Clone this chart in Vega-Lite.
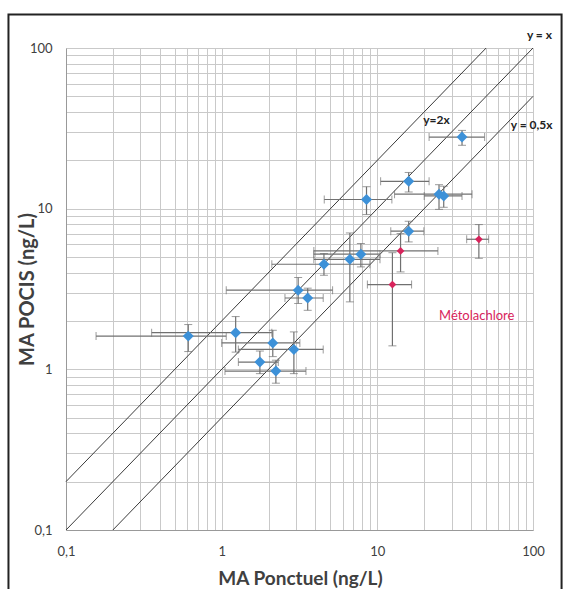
{
  "$schema": "https://vega.github.io/schema/vega-lite/v6.json",
  "width": 467,
  "height": 482,
  "autosize": "none",
  "padding": {"left": 66, "top": 48, "right": 36, "bottom": 59},
  "background": "white",
  "config": {
    "view": {"stroke": null},
    "font": "Lato",
    "axis": {
      "grid": true, "gridColor": "#c9c9c9", "gridWidth": 1,
      "ticks": false, "labelFontSize": 13, "labelColor": "#404040",
      "labelFlush": false, "labelOverlap": false, "domainColor": "#999999",
      "titleFontWeight": "bold", "titleColor": "#404040"
    },
    "axisX": {"labelPadding": 15, "titleFontSize": 19, "titleX": 234, "titleY": 48, "titleBaseline": "middle"},
    "axisY": {"labelPadding": 14, "titleFontSize": 20, "titleX": -39, "titleY": 241, "titleAngle": -90, "titleBaseline": "middle", "titleAlign": "center"}
  },
  "datasets": {
    "pts": [
      {"group": "Autres", "x": 0.61, "y": 1.61, "xlo": 0.156, "xhi": 1.07, "ylo": 1.29, "yhi": 1.9},
      {"group": "Autres", "x": 1.23, "y": 1.69, "xlo": 0.355, "xhi": 2.1, "ylo": 1.28, "yhi": 2.13},
      {"group": "Autres", "x": 2.13, "y": 1.46, "xlo": 1.0, "xhi": 3.18, "ylo": 1.2, "yhi": 1.75},
      {"group": "Autres", "x": 1.76, "y": 1.11, "xlo": 1.28, "xhi": 2.31, "ylo": 0.94, "yhi": 1.3},
      {"group": "Autres", "x": 2.91, "y": 1.33, "xlo": 1.28, "xhi": 4.49, "ylo": 0.94, "yhi": 1.71},
      {"group": "Autres", "x": 2.23, "y": 0.975, "xlo": 1.05, "xhi": 3.48, "ylo": 0.82, "yhi": 1.14},
      {"group": "Autres", "x": 3.1, "y": 3.11, "xlo": 1.07, "xhi": 5.16, "ylo": 2.57, "yhi": 3.73},
      {"group": "Autres", "x": 3.57, "y": 2.78, "xlo": 2.55, "xhi": 4.49, "ylo": 2.33, "yhi": 3.2},
      {"group": "Autres", "x": 4.54, "y": 4.51, "xlo": 2.1, "xhi": 8.95, "ylo": 3.85, "yhi": 5.26},
      {"group": "Autres", "x": 6.66, "y": 4.84, "xlo": 3.91, "xhi": 10.4, "ylo": 2.63, "yhi": 7.06},
      {"group": "Autres", "x": 7.84, "y": 5.21, "xlo": 3.91, "xhi": 10.4, "ylo": 4.34, "yhi": 6.07},
      {"group": "Autres", "x": 8.52, "y": 11.4, "xlo": 4.56, "xhi": 12.4, "ylo": 9.19, "yhi": 13.7},
      {"group": "Autres", "x": 15.9, "y": 14.8, "xlo": 10.5, "xhi": 21.5, "ylo": 12.7, "yhi": 16.8},
      {"group": "Autres", "x": 15.9, "y": 7.24, "xlo": 12.2, "xhi": 19.9, "ylo": 6.21, "yhi": 8.35},
      {"group": "Autres", "x": 24.9, "y": 12.3, "xlo": 12.9, "xhi": 40.6, "ylo": 9.9, "yhi": 14.1},
      {"group": "Autres", "x": 26.7, "y": 12.0, "xlo": 20.0, "xhi": 35.0, "ylo": 10.2, "yhi": 13.8},
      {"group": "Autres", "x": 35.0, "y": 27.9, "xlo": 21.5, "xhi": 48.9, "ylo": 24.8, "yhi": 30.7},
      {"group": "Métolachlore", "x": 14.1, "y": 5.46, "xlo": 3.91, "xhi": 24.5, "ylo": 4.04, "yhi": 7.0},
      {"group": "Métolachlore", "x": 12.5, "y": 3.37, "xlo": 8.63, "xhi": 16.6, "ylo": 1.4, "yhi": 5.32},
      {"group": "Métolachlore", "x": 44.9, "y": 6.45, "xlo": 37.5, "xhi": 51.9, "ylo": 4.91, "yhi": 7.96}
    ],
    "lines": [
      {"line": "y = x", "x": 0.1, "y": 0.1},
      {"line": "y = x", "x": 100, "y": 100},
      {"line": "y=2x", "x": 0.1, "y": 0.2},
      {"line": "y=2x", "x": 50, "y": 100},
      {"line": "y = 0,5x", "x": 0.2, "y": 0.1},
      {"line": "y = 0,5x", "x": 100, "y": 50}
    ],
    "linelabels": [
      {"text": "y = x", "x": 110, "y": 120},
      {"text": "y=2x", "x": 24, "y": 35.5},
      {"text": "y = 0,5x", "x": 98, "y": 33}
    ],
    "note": [
      {"text": "Métolachlore", "x": 43.5, "y": 2.14}
    ],
    "frame": [
      {"x": 0.0427, "x2": 152.6, "y": 161.8, "y2": 0.0395}
    ]
  },
  "layer": [
    {
      "data": {"name": "lines"},
      "mark": {"type": "line", "color": "#3a3a3a", "strokeWidth": 1},
      "encoding": {
        "x": {"field": "x", "type": "quantitative", "title": "MA Ponctuel (ng/L)",
          "scale": {"type": "log", "domain": [0.1, 100], "nice": false},
          "axis": {"values": [0.1,0.2,0.3,0.4,0.5,0.6,0.7,0.8,0.9,1,2,3,4,5,6,7,8,9,10,20,30,40,50,60,70,80,90,100],
            "labelExpr": "datum.value == 0.1 ? '0,1' : datum.value == 1 ? '1' : datum.value == 10 ? '10' : datum.value == 100 ? '100' : ''"}},
        "y": {"field": "y", "type": "quantitative", "title": "MA POCIS (ng/L)",
          "scale": {"type": "log", "domain": [0.1, 100], "nice": false},
          "axis": {"values": [0.1,0.2,0.3,0.4,0.5,0.6,0.7,0.8,0.9,1,2,3,4,5,6,7,8,9,10,20,30,40,50,60,70,80,90,100],
            "labelExpr": "datum.value == 0.1 ? '0,1' : datum.value == 1 ? '1' : datum.value == 10 ? '10' : datum.value == 100 ? '100' : ''"}},
        "detail": {"field": "line", "type": "nominal"}
      }
    },
    {
      "data": {"name": "pts"},
      "mark": {"type": "errorbar", "ticks": {"size": 8, "color": "#707070"}, "rule": {"color": "#707070", "strokeWidth": 1.2}},
      "encoding": {
        "x": {"field": "xlo", "type": "quantitative", "title": "MA Ponctuel (ng/L)", "scale": {"type": "log", "domain": [0.1, 100], "nice": false}},
        "x2": {"field": "xhi"},
        "y": {"field": "y", "type": "quantitative", "title": "MA POCIS (ng/L)", "scale": {"type": "log", "domain": [0.1, 100], "nice": false}}
      }
    },
    {
      "data": {"name": "pts"},
      "mark": {"type": "errorbar", "ticks": {"size": 8, "color": "#707070"}, "rule": {"color": "#707070", "strokeWidth": 1.2}},
      "encoding": {
        "y": {"field": "ylo", "type": "quantitative", "title": "MA POCIS (ng/L)", "scale": {"type": "log", "domain": [0.1, 100], "nice": false}},
        "y2": {"field": "yhi"},
        "x": {"field": "x", "type": "quantitative", "title": "MA Ponctuel (ng/L)", "scale": {"type": "log", "domain": [0.1, 100], "nice": false}}
      }
    },
    {
      "data": {"name": "pts"},
      "mark": {"type": "point", "shape": "diamond", "filled": true, "opacity": 1},
      "encoding": {
        "x": {"field": "x", "type": "quantitative", "title": "MA Ponctuel (ng/L)", "scale": {"type": "log", "domain": [0.1, 100], "nice": false}},
        "y": {"field": "y", "type": "quantitative", "title": "MA POCIS (ng/L)", "scale": {"type": "log", "domain": [0.1, 100], "nice": false}},
        "color": {"field": "group", "type": "nominal", "scale": {"domain": ["Autres", "Métolachlore"], "range": ["#3d91d8", "#d8245c"]}, "legend": null},
        "size": {"field": "group", "type": "nominal", "scale": {"domain": ["Autres", "Métolachlore"], "range": [120, 60]}, "legend": null}
      }
    },
    {
      "data": {"name": "linelabels"},
      "mark": {"type": "text", "fontSize": 12, "fontWeight": "bold", "color": "#222222", "clip": false},
      "encoding": {
        "x": {"field": "x", "type": "quantitative", "title": "MA Ponctuel (ng/L)", "scale": {"type": "log", "domain": [0.1, 100], "nice": false}},
        "y": {"field": "y", "type": "quantitative", "title": "MA POCIS (ng/L)", "scale": {"type": "log", "domain": [0.1, 100], "nice": false}},
        "text": {"field": "text", "type": "nominal"}
      }
    },
    {
      "data": {"name": "note"},
      "mark": {"type": "text", "fontSize": 13, "fontWeight": "normal", "color": "#d8245c", "clip": false},
      "encoding": {
        "x": {"field": "x", "type": "quantitative", "title": "MA Ponctuel (ng/L)", "scale": {"type": "log", "domain": [0.1, 100], "nice": false}},
        "y": {"field": "y", "type": "quantitative", "title": "MA POCIS (ng/L)", "scale": {"type": "log", "domain": [0.1, 100], "nice": false}},
        "text": {"field": "text", "type": "nominal"}
      }
    },
    {
      "data": {"name": "frame"},
      "mark": {"type": "rect", "fill": null, "stroke": "#222222", "strokeWidth": 2, "clip": false},
      "encoding": {
        "x": {"field": "x", "type": "quantitative", "title": "MA Ponctuel (ng/L)", "scale": {"type": "log", "domain": [0.1, 100], "nice": false}},
        "x2": {"field": "x2"},
        "y": {"field": "y", "type": "quantitative", "title": "MA POCIS (ng/L)", "scale": {"type": "log", "domain": [0.1, 100], "nice": false}},
        "y2": {"field": "y2"}
      }
    }
  ]
}
